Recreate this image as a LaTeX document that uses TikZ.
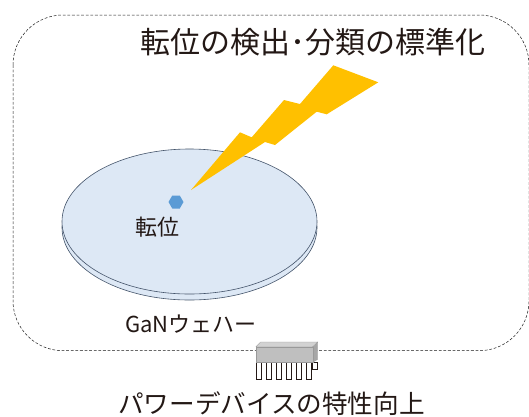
\documentclass[tikz,border=0pt]{standalone}
\usepackage{fontspec}
\setmainfont{Noto Sans CJK JP}
\usetikzlibrary{shapes.geometric}
\definecolor{waferfill}{HTML}{DDE8F5}
\definecolor{waferline}{HTML}{44546A}
\definecolor{boltcol}{HTML}{FFC000}
\definecolor{dislocol}{HTML}{5B9BD5}
\definecolor{ink}{HTML}{231815}

\begin{document}
\begin{tikzpicture}[x=1pt,y=-1pt,
    wafer/.style={draw=waferline,fill=waferfill,line width=0.6pt},
    pin/.style={draw=ink,fill=white,line width=0.5pt},
    chipface/.style={draw=gray!80,line width=0.3pt},
    lbl/.style={text=ink,inner sep=0pt}]
  \useasboundingbox (0,0) rectangle (529,416);
  % frame around the wafer
  \draw[gray!20!black,line width=0.5pt,dash pattern=on 2.8pt off 1.8pt,rounded corners=50pt] (13,15) rectangle (529,350.7);
  % GaN wafer, bottom face then top face
  \draw[wafer] (189.5,227.5) ellipse [x radius=127.5pt,y radius=72.5pt];
  \draw[wafer] (189.5,221.5) ellipse [x radius=127.5pt,y radius=72.5pt];
  \node[regular polygon,regular polygon sides=6,fill=dislocol,minimum size=15pt,inner sep=0pt] (disl) at (176,202) {};
  \node[lbl,font=\fontsize{22}{22}\selectfont] (disllbl) at (157,227) {転位};
  \node[lbl,font=\fontsize{22}{22}\selectfont] (wafer) at (191,324) {GaNウェハー};
  % lightning bolt
  \fill[boltcol] (191,190) -- (240,132.3) -- (251.7,137.3) -- (284,100) -- (300,104) -- (333.3,65.3)
    -- (378.3,82.3) -- (326.7,114.3) -- (316.7,111.7) -- (275,145) -- (265,142) -- cycle;
  \node[lbl,font=\fontsize{30}{30}\selectfont] (title) at (313,42) {転位の検出･分類の標準化};
  % power device chip
  \draw[pin] (312.7,362.3) rectangle (317.7,369.3);
  \foreach \i in {0,...,5}
    \draw[pin] (256+10*\i,362.3) rectangle ++(5.7,17);
  \filldraw[chipface,fill=gray!70] (312.7,346.7) -- (317.7,342) -- (317.7,359.3) -- (312.7,362.3) -- cycle;
  \filldraw[chipface,fill=gray!35] (256,346.7) -- (260.5,342) -- (317.7,342) -- (312.7,346.7) -- cycle;
  \filldraw[chipface,fill=gray!50] (256,346.7) rectangle (312.7,362.3);
  \coordinate (chip) at (284.3,352);
  \node[lbl,font=\fontsize{25.6}{25.6}\selectfont] (device) at (271.5,404) {パワーデバイスの特性向上};
\end{tikzpicture}
\end{document}
